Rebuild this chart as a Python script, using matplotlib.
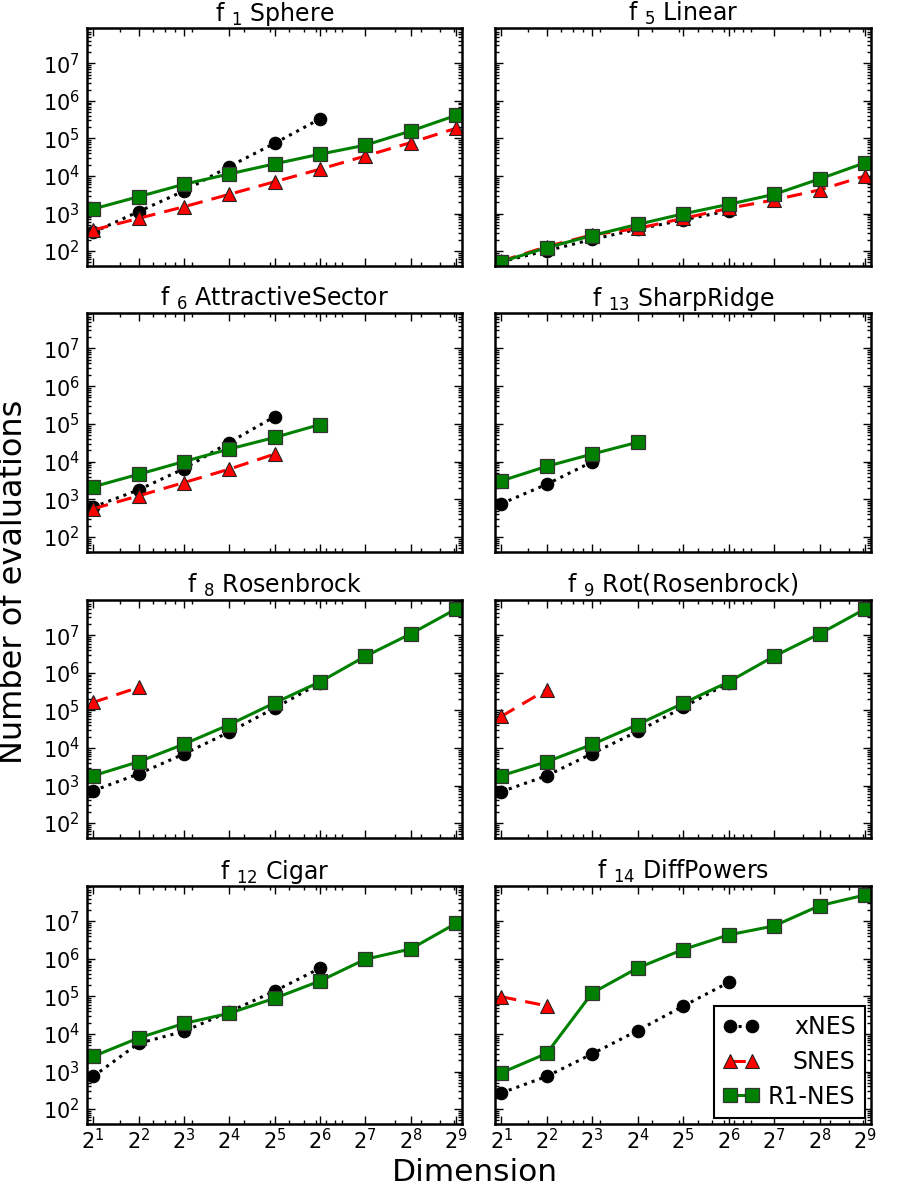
import matplotlib
matplotlib.use("Agg")
import matplotlib.pyplot as plt
from matplotlib.ticker import FixedLocator, LogLocator, NullFormatter

# ---------------- data ----------------
dims = [2, 4, 8, 16, 32, 64, 128, 256, 512]
dim_labels = [r"$2^{%d}$" % k for k in range(1, 10)]

titles = [r"f $_{1}$ Sphere", r"f $_{5}$ Linear",
          r"f $_{6}$ AttractiveSector", r"f $_{13}$ SharpRidge",
          r"f $_{8}$ Rosenbrock", r"f $_{9}$ Rot(Rosenbrock)",
          r"f $_{12}$ Cigar", r"f $_{14}$ DiffPowers"]

sphere_xnes = [316, 1120, 3980, 17800, 74000, 330000]
sphere_snes = [363, 741, 1510, 3240, 7000, 15100, 34000, 77000, 186000]
sphere_r1 = [1320, 2800, 6000, 11300, 21000, 38000, 66000, 157000, 410000]

linear_xnes = [52, 102, 204, 380, 675, 1180]
linear_snes = [54, 131, 270, 400, 740, 1370, 2300, 4240, 10000]
linear_r1 = [52, 123, 259, 513, 977, 1750, 3230, 8300, 22400]

attr_xnes = [620, 1780, 6460, 32000, 155000]
attr_snes = [560, 1230, 2770, 6300, 15800]
attr_r1 = [2140, 4600, 10000, 21500, 43500, 96000]

sharp_xnes = [760, 2500, 9800]
sharp_snes = []
sharp_r1 = [3070, 7460, 15800, 32500]

rosen_xnes = [725, 2030, 6900, 26500, 115000, 530000]
rosen_snes = [163000, 410000]
rosen_r1 = [1820, 4280, 12600, 41700, 158000, 574000, 2.76e6, 1.09e7, 5.0e7]

rotrosen_xnes = [680, 1820, 7100, 27500, 120000, 540000]
rotrosen_snes = [69000, 355000]
rotrosen_r1 = [1820, 4280, 12400, 42000, 154000, 574000, 2.76e6, 1.09e7, 5.0e7]

cigar_xnes = [740, 5600, 11700, 39000, 138000, 560000]
cigar_snes = []
cigar_r1 = [2520, 7800, 19000, 35500, 89000, 257000, 975000, 1.83e6, 8.8e6]

diff_xnes = [268, 740, 2940, 12300, 55000, 235000]
diff_snes = [98000, 56000]
diff_r1 = [920, 3030, 123000, 570000, 1.77e6, 4.34e6, 7.5e6, 2.6e7, 5.0e7]

panel_xnes = [sphere_xnes, linear_xnes, attr_xnes, sharp_xnes,
              rosen_xnes, rotrosen_xnes, cigar_xnes, diff_xnes]
panel_snes = [sphere_snes, linear_snes, attr_snes, sharp_snes,
              rosen_snes, rotrosen_snes, cigar_snes, diff_snes]
panel_r1 = [sphere_r1, linear_r1, attr_r1, sharp_r1,
            rosen_r1, rotrosen_r1, cigar_r1, diff_r1]

series_names = ["xNES", "SNES", "R1-NES"]

# ---------------- figure ----------------
plt.rcParams['font.family'] = ['DejaVu Sans']
W, H = 913, 1188
fig = plt.figure(figsize=(W / 100, H / 100), dpi=100)

col_x = [(87, 462), (495, 871)]
row_y = [(28, 266), (313, 552), (600, 838), (886, 1124)]

GREEN = '#008000'
axes = []
for i in range(8):
    r, c = divmod(i, 2)
    x0, x1 = col_x[c]
    y0, y1 = row_y[r]
    ax = fig.add_axes([x0 / W, 1 - y1 / H, (x1 - x0) / W, (y1 - y0) / H])
    axes.append(ax)

    xn = panel_xnes[i]
    sn = panel_snes[i]
    rn = panel_r1[i]
    ax.plot(dims[:len(xn)], xn, linestyle=':', color='black', lw=2.2,
            marker='o', markersize=9, markerfacecolor='black',
            markeredgecolor='black', markeredgewidth=0.8, label=series_names[0])
    if len(sn):
        ax.plot(dims[:len(sn)], sn, linestyle='--', color='red', lw=2.2,
                dashes=(5, 3), marker='^', markersize=10, markerfacecolor='red',
                markeredgecolor='#222222', markeredgewidth=0.8, label=series_names[1])
    ax.plot(dims[:len(rn)], rn, linestyle='-', color=GREEN, lw=2.2,
            marker='s', markersize=9.5, markerfacecolor=GREEN,
            markeredgecolor='#333333', markeredgewidth=0.9, label=series_names[2])

    ax.set_xscale('log')
    ax.set_yscale('log')
    ax.set_xlim(1.82, 561)
    ax.set_ylim(40, 8.7e7)
    ax.xaxis.set_major_locator(FixedLocator(dims))
    ax.xaxis.set_minor_locator(LogLocator(base=10, subs='auto', numticks=20))
    ax.xaxis.set_minor_formatter(NullFormatter())
    ax.yaxis.set_major_locator(FixedLocator([1e2, 1e3, 1e4, 1e5, 1e6, 1e7]))
    ax.yaxis.set_minor_locator(LogLocator(base=10, subs='auto', numticks=20))
    ax.yaxis.set_minor_formatter(NullFormatter())
    if r == 3:
        ax.set_xticklabels(dim_labels)
    else:
        ax.set_xticklabels([])
    if c == 0:
        ax.set_yticklabels([r"$10^{%d}$" % k for k in range(2, 8)])
    else:
        ax.set_yticklabels([])
    ax.tick_params(which='both', direction='in', top=True, right=True,
                   labelsize=15, width=1.0)
    ax.tick_params(which='major', length=6)
    ax.tick_params(axis='y', which='major', pad=5)
    ax.tick_params(axis='x', which='major', pad=3)
    ax.tick_params(which='minor', length=3)
    for s in ax.spines.values():
        s.set_linewidth(1.8)
    ax.set_title(titles[i], fontsize=17, pad=5)

# legend in last panel
ax = axes[7]
leg = ax.legend(loc='lower right', numpoints=2, fontsize=17, frameon=True,
                fancybox=False, edgecolor='black', framealpha=1,
                handlelength=1.5, handletextpad=0.4, borderpad=0.4,
                labelspacing=0.45, borderaxespad=0.25)
leg.get_frame().set_linewidth(1.5)

# right-align legend labels
fig.canvas.draw()
renderer = fig.canvas.get_renderer()
texts = leg.get_texts()
widths = [t.get_window_extent(renderer).width for t in texts]
maxw = max(widths)
rows = leg._legend_handle_box.get_children()[0].get_children()
for row, w in zip(rows, widths):
    row.sep = row.sep + (maxw - w) * 72.0 / fig.dpi

fig.text(475 / W, 1 - 1187 / H, "Dimension", fontsize=22.5, ha='center',
         va='bottom')
fig.text(14 / W, 1 - 582 / H, "Number of evaluations", fontsize=23,
         rotation=90, ha='center', va='center')

fig.savefig("out.png", dpi=100)
